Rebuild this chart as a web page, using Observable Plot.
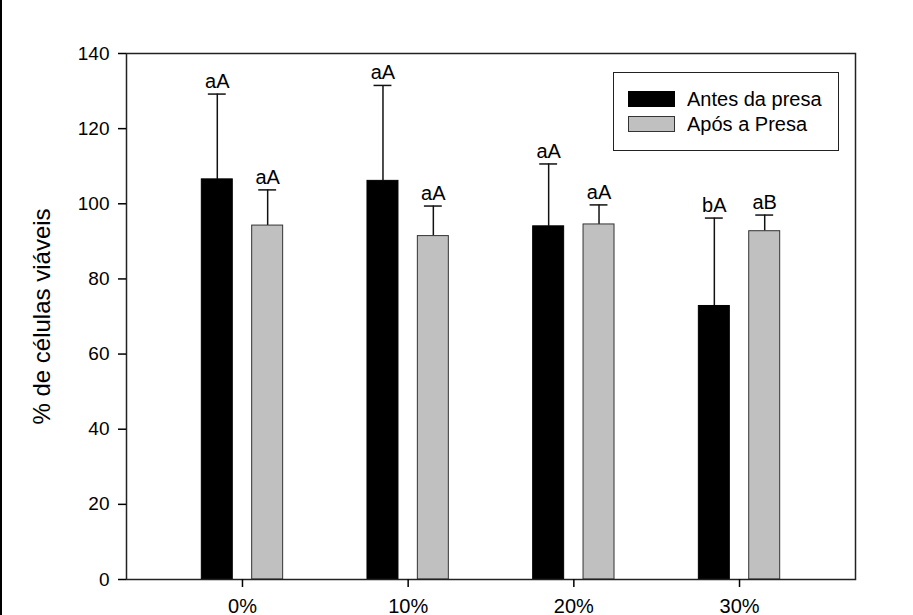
<!DOCTYPE html>
<html><head><meta charset="utf-8">
<script src="https://cdn.jsdelivr.net/npm/d3@7"></script>
<script src="https://cdn.jsdelivr.net/npm/@observablehq/plot@0.6"></script>
<style>
body{margin:0;background:#fff;}
#wrap{position:relative;width:913px;height:615px;overflow:hidden;font-family:"Liberation Sans",Arial,sans-serif;}
#wrap svg{position:absolute;left:0;top:0;}
#edge{position:absolute;left:0;top:0;width:2px;height:615px;background:#000;}
#legend{position:absolute;left:613px;top:72px;width:226px;height:79px;border:1.5px solid #222;box-sizing:border-box;background:#fff;}
.sw{position:absolute;left:14px;width:47px;height:16px;box-sizing:border-box;border:1px solid #333;}
.lt{position:absolute;left:73px;font-size:20px;line-height:20px;color:#000;white-space:nowrap;}
</style></head><body>
<div id="wrap"><div id="edge"></div></div>
<script>
const categories = ["0%", "10%", "20%", "30%"];
const seriesNames = ["Antes da presa", "Após a Presa"];
const antesMean = [106.5, 106.1, 94.0, 72.8];
const antesErr = [22.7, 25.4, 16.6, 23.4];
const aposMean = [94.2, 91.4, 94.5, 92.7];
const aposErr = [9.5, 8.0, 5.2, 4.3];
const antesLetters = ["aA", "aA", "aA", "bA"];
const aposLetters = ["aA", "aA", "aA", "aB"];
const yTicks = [0, 20, 40, 60, 80, 100, 120, 140];
const yLabel = "% de células viáveis";
const colors = ["#000000", "#c0c0c0"];

const offset = 0.152, half = 0.0935, cap = 0.054;
const rows = [];
categories.forEach((c, i) => {
  rows.push({i, s: 0, cx: i - offset, v: antesMean[i], e: antesErr[i], lab: antesLetters[i]});
  rows.push({i, s: 1, cx: i + offset, v: aposMean[i], e: aposErr[i], lab: aposLetters[i]});
});

const plot = Plot.plot({
  width: 913,
  height: 615,
  marginLeft: 126,
  marginRight: 58,
  marginTop: 53,
  marginBottom: 36,
  style: {fontFamily: '"Liberation Sans", Arial, sans-serif', fontSize: "19px", color: "#000", background: "transparent"},
  x: {type: "linear", domain: [-0.7, 3.7]},
  y: {domain: [0, 140]},
  marks: [
    Plot.ruleX(rows, {x: "cx", y1: "v", y2: d => d.v + d.e, stroke: "#111", strokeWidth: 1.5}),
    Plot.ruleY(rows, {y: d => d.v + d.e, x1: d => d.cx - cap, x2: d => d.cx + cap, stroke: "#111", strokeWidth: 1.5}),
    Plot.rectY(rows, {x1: d => d.cx - half, x2: d => d.cx + half, y1: 0, y2: "v",
      fill: d => colors[d.s], stroke: d => d.s === 0 ? "#000" : "#333", strokeWidth: 1}),
    Plot.text(rows, {x: "cx", y: d => d.v + d.e, text: "lab", dy: -6, lineAnchor: "bottom", fontSize: 20, fill: "#000"}),
    Plot.frame({stroke: "#222", strokeWidth: 1.5}),
    Plot.axisY({ticks: yTicks, tickSize: 8, tickPadding: 9, label: null, fontSize: 19, strokeWidth: 1.5}),
    Plot.axisY({ticks: [], label: yLabel, labelAnchor: "center", labelArrow: "none", labelOffset: 94, fontSize: 24}),
    Plot.axisX({ticks: [0, 1, 2, 3], tickFormat: i => categories[i], tickSize: 8, tickPadding: 11, label: null, fontSize: 20, strokeWidth: 1.5})
  ]
});
const wrap = document.getElementById("wrap");
wrap.insertBefore(plot, wrap.firstChild);

const leg = document.createElement("div");
leg.id = "legend";
seriesNames.forEach((name, k) => {
  const sw = document.createElement("div");
  sw.className = "sw";
  sw.style.top = (k === 0 ? 18 : 43) + "px";
  sw.style.background = colors[k];
  sw.style.borderColor = k === 0 ? "#000" : "#333";
  leg.appendChild(sw);
  const t = document.createElement("div");
  t.className = "lt";
  t.style.top = (k === 0 ? 16 : 41) + "px";
  t.textContent = name;
  leg.appendChild(t);
});
wrap.appendChild(leg);
</script>
</body></html>
